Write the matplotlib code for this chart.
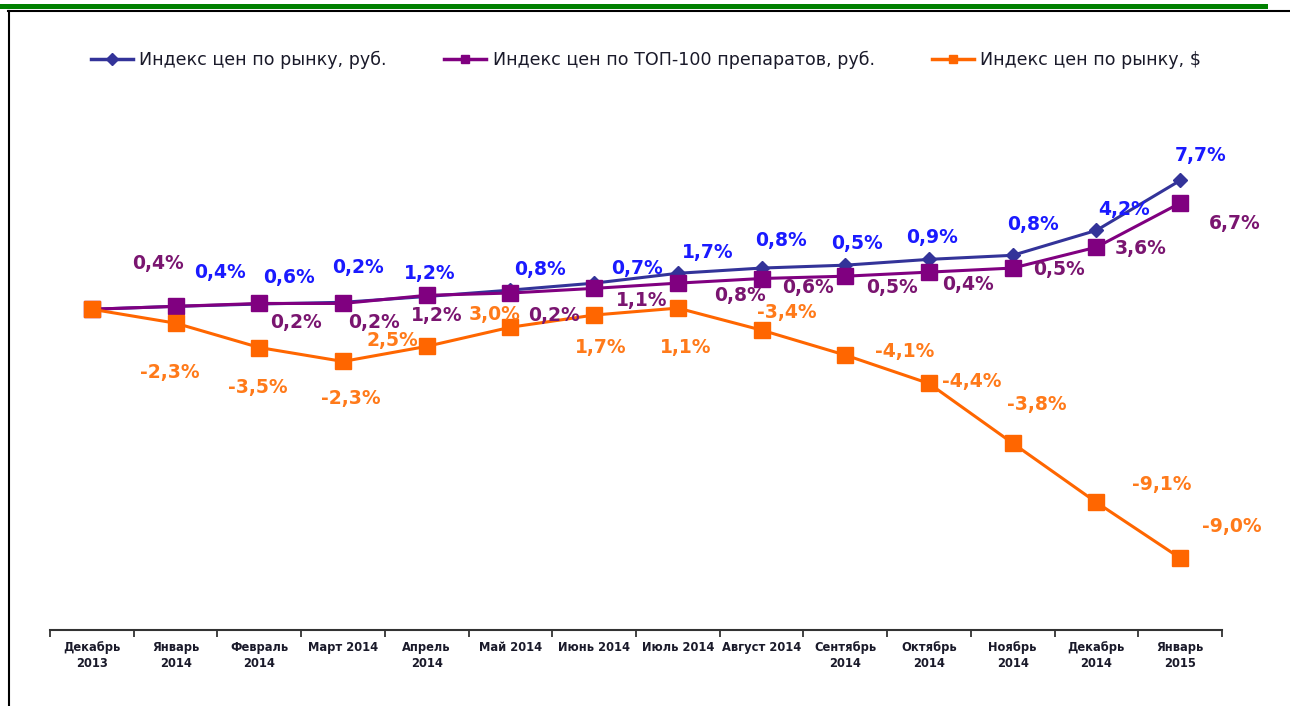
import numpy as np
import matplotlib
matplotlib.use('Agg')
import matplotlib.pyplot as plt
from matplotlib.lines import Line2D
from matplotlib.patches import Rectangle

# Months (x categories)
months = ['Декабрь\n2013', 'Январь\n2014', 'Февраль\n2014', 'Март 2014', 'Апрель\n2014',
          'Май 2014', 'Июнь 2014', 'Июль 2014', 'Август 2014', 'Сентябрь\n2014',
          'Октябрь\n2014', 'Ноябрь\n2014', 'Декабрь\n2014', 'Январь\n2015']

# Cumulative index (Dec 2013 = 100)
market_rub = [100, 100.5, 100.9, 101.2, 102.2, 103.3, 104.5, 106.2, 107.1, 107.6, 108.6, 109.3, 113.6, 122.2]
top100_rub = [100, 100.5, 101.0, 101.0, 102.4, 102.8, 103.6, 104.5, 105.3, 105.7, 106.4, 107.1, 110.7, 118.3]
market_usd = [100, 97.6, 93.4, 91.0, 93.6, 96.9, 99.0, 100.2, 96.4, 92.1, 87.2, 76.9, 66.7, 57.1]

# Monthly change labels (from January 2014)
market_rub_lbl = ['0,4%', '0,6%', '0,2%', '1,2%', '0,8%', '0,7%', '1,7%', '0,8%', '0,5%', '0,9%', '0,8%', '4,2%', '7,7%']
top100_rub_lbl = ['0,4%', '0,2%', '0,2%', '1,2%', '0,2%', '1,1%', '0,8%', '0,6%', '0,5%', '0,4%', '0,5%', '3,6%', '6,7%']
market_usd_lbl = ['-2,3%', '-3,5%', '-2,3%', '2,5%', '3,0%', '1,7%', '1,1%', '-3,4%', '-4,1%', '-4,4%', '-3,8%', '-9,1%', '-9,0%']

# label offsets in pixels (dx, dy), layout only
off_rub = [(44, 34), (30, 27), (15, 35), (3, 23), (30, 21), (43, 15), (30, 21),
           (19, 28), (12, 22), (3, 22), (20, 31), (28, 21), (20, 25)]
off_top = [(-18, 43), (37, -19), (31, -19), (10, -20), (44, -22), (48, -12), (62, -12),
           (46, -9), (47, -11), (39, -12), (46, -1), (44, -1), (55, -20)]
off_usd = [(-6, -49), (-1, -40), (8, -37), (-34, 6), (-16, 13), (7, -32), (8, -39),
           (25, 18), (59, 4), (43, 2), (24, 39), (65, 18), (52, 32)]

x = np.arange(len(months))

fig = plt.figure(figsize=(12.9, 7.06), dpi=100)
ax = fig.add_axes([50 / 1290, 76 / 706, 1172 / 1290, 540 / 706])

ax.plot(x, market_rub, color='#333399', lw=2.2, marker='D', markersize=7, zorder=3,
        label='Индекс цен по рынку, руб.')
ax.plot(x, top100_rub, color='#800080', lw=2.2, marker='s', markersize=11, zorder=4,
        label='Индекс цен по ТОП-100 препаратов, руб.')
ax.plot(x, market_usd, color='#FF6600', lw=2.2, marker='s', markersize=11, zorder=5,
        label='Индекс цен по рынку, $')

for i in range(1, len(months)):
    ax.annotate(market_rub_lbl[i - 1], (x[i], market_rub[i]), xytext=off_rub[i - 1],
                textcoords='offset pixels', ha='center', va='center',
                fontsize=13.5, fontweight='bold', color='#1A1AFF', zorder=6)
    ax.annotate(top100_rub_lbl[i - 1], (x[i], top100_rub[i]), xytext=off_top[i - 1],
                textcoords='offset pixels', ha='center', va='center',
                fontsize=13.5, fontweight='bold', color='#7A1570', zorder=6)
    ax.annotate(market_usd_lbl[i - 1], (x[i], market_usd[i]), xytext=off_usd[i - 1],
                textcoords='offset pixels', ha='center', va='center',
                fontsize=13.5, fontweight='bold', color='#FF7A1A', zorder=6)

ax.set_xlim(-0.5, len(months) - 0.5)
ax.set_ylim(44.7, 137.8)
ax.set_yticks([])
for s in ['left', 'right', 'top']:
    ax.spines[s].set_visible(False)
ax.spines['bottom'].set_color('#333333')
ax.spines['bottom'].set_linewidth(1.5)

# ticks on category borders, labels in the middle
ax.set_xticks(np.arange(len(months) + 1) - 0.5)
ax.set_xticklabels([])
ax.tick_params(axis='x', which='major', direction='out', length=5, width=1.3, color='#333333')
ax.set_xticks(x, minor=True)
ax.set_xticklabels(months, minor=True, fontsize=8.3, fontweight='bold', color='#1a1a2a',
                   linespacing=1.25)
ax.tick_params(axis='x', which='minor', length=0, pad=8)

fig.legend(loc='center', bbox_to_anchor=(0.501, 1 - 60 / 706), ncol=3, frameon=False,
           handlelength=2.4, handletextpad=0.35, columnspacing=3.3,
           prop={'size': 12.6})
for h in fig.legends[0].legend_handles:
    h.set_markersize(6)
    h.set_linewidth(2.5)
for t in fig.legends[0].get_texts():
    t.set_color('#1a1a2a')

# frame decoration: green bar on top, black lines
fig.add_artist(Rectangle((0, 1 - 9 / 706), 1268 / 1290, 5 / 706, transform=fig.transFigure,
                         facecolor='#008000', edgecolor='none'))
fig.add_artist(Line2D([8 / 1290, 1], [1 - 10.5 / 706] * 2, transform=fig.transFigure,
                      color='black', lw=1.5))
fig.add_artist(Line2D([9 / 1290] * 2, [0, 1 - 10.5 / 706], transform=fig.transFigure,
                      color='black', lw=1.5))

plt.savefig('out.png', dpi=100)
